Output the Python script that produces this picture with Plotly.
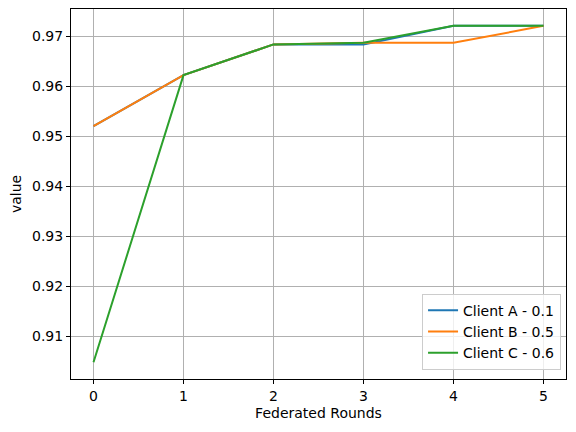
import plotly.graph_objects as go

rounds = [0, 1, 2, 3, 4, 5]
client_a = [0.952, 0.9622, 0.96834, 0.9683, 0.97206, 0.97206]
client_b = [0.952, 0.9622, 0.96834, 0.96866, 0.96866, 0.97206]
client_c = [0.9048, 0.9622, 0.96834, 0.96866, 0.97206, 0.97206]
names = ["Client A - 0.1", "Client B - 0.5", "Client C - 0.6"]
colors = ["#1f77b4", "#ff7f0e", "#2ca02c"]
yticks = [0.91, 0.92, 0.93, 0.94, 0.95, 0.96, 0.97]

fig = go.Figure()
for vals, name, col in zip([client_a, client_b, client_c], names, colors):
    fig.add_trace(go.Scatter(x=rounds, y=vals, mode="lines", name=name,
                             line=dict(color=col, width=2)))

lo, hi = min(client_c), max(client_a)
pad = (hi - lo) * 0.05
axis_common = dict(showline=True, linecolor="black", linewidth=1, mirror=True,
                   ticks="outside", ticklen=4, tickcolor="black",
                   showgrid=True, gridcolor="#b0b0b0", gridwidth=1,
                   zeroline=False, tickfont=dict(size=14, color="black"),
                   automargin=False)
fig.update_xaxes(range=[-0.25, 5.25], tickvals=rounds,
                 title=dict(text="Federated Rounds", font=dict(size=14, color="black"), standoff=5),
                 **axis_common)
fig.update_yaxes(range=[lo - pad, hi + pad], tickvals=yticks,
                 ticktext=[f"{v:.2f}" for v in yticks],
                 title=dict(text="value", font=dict(size=14, color="black"), standoff=8),
                 **axis_common)
fig.update_layout(width=560, height=416, plot_bgcolor="white", paper_bgcolor="white",
                  margin=dict(l=62.5, r=2, t=1, b=44.5),
                  font=dict(family="DejaVu Sans", size=14, color="black"),
                  legend=dict(x=0.99, y=0.025, xanchor="right", yanchor="bottom",
                              bordercolor="#cccccc", borderwidth=1,
                              bgcolor="rgba(255,255,255,0.8)",
                              font=dict(size=14)),
                  showlegend=True)
fig.write_html("out.html")
